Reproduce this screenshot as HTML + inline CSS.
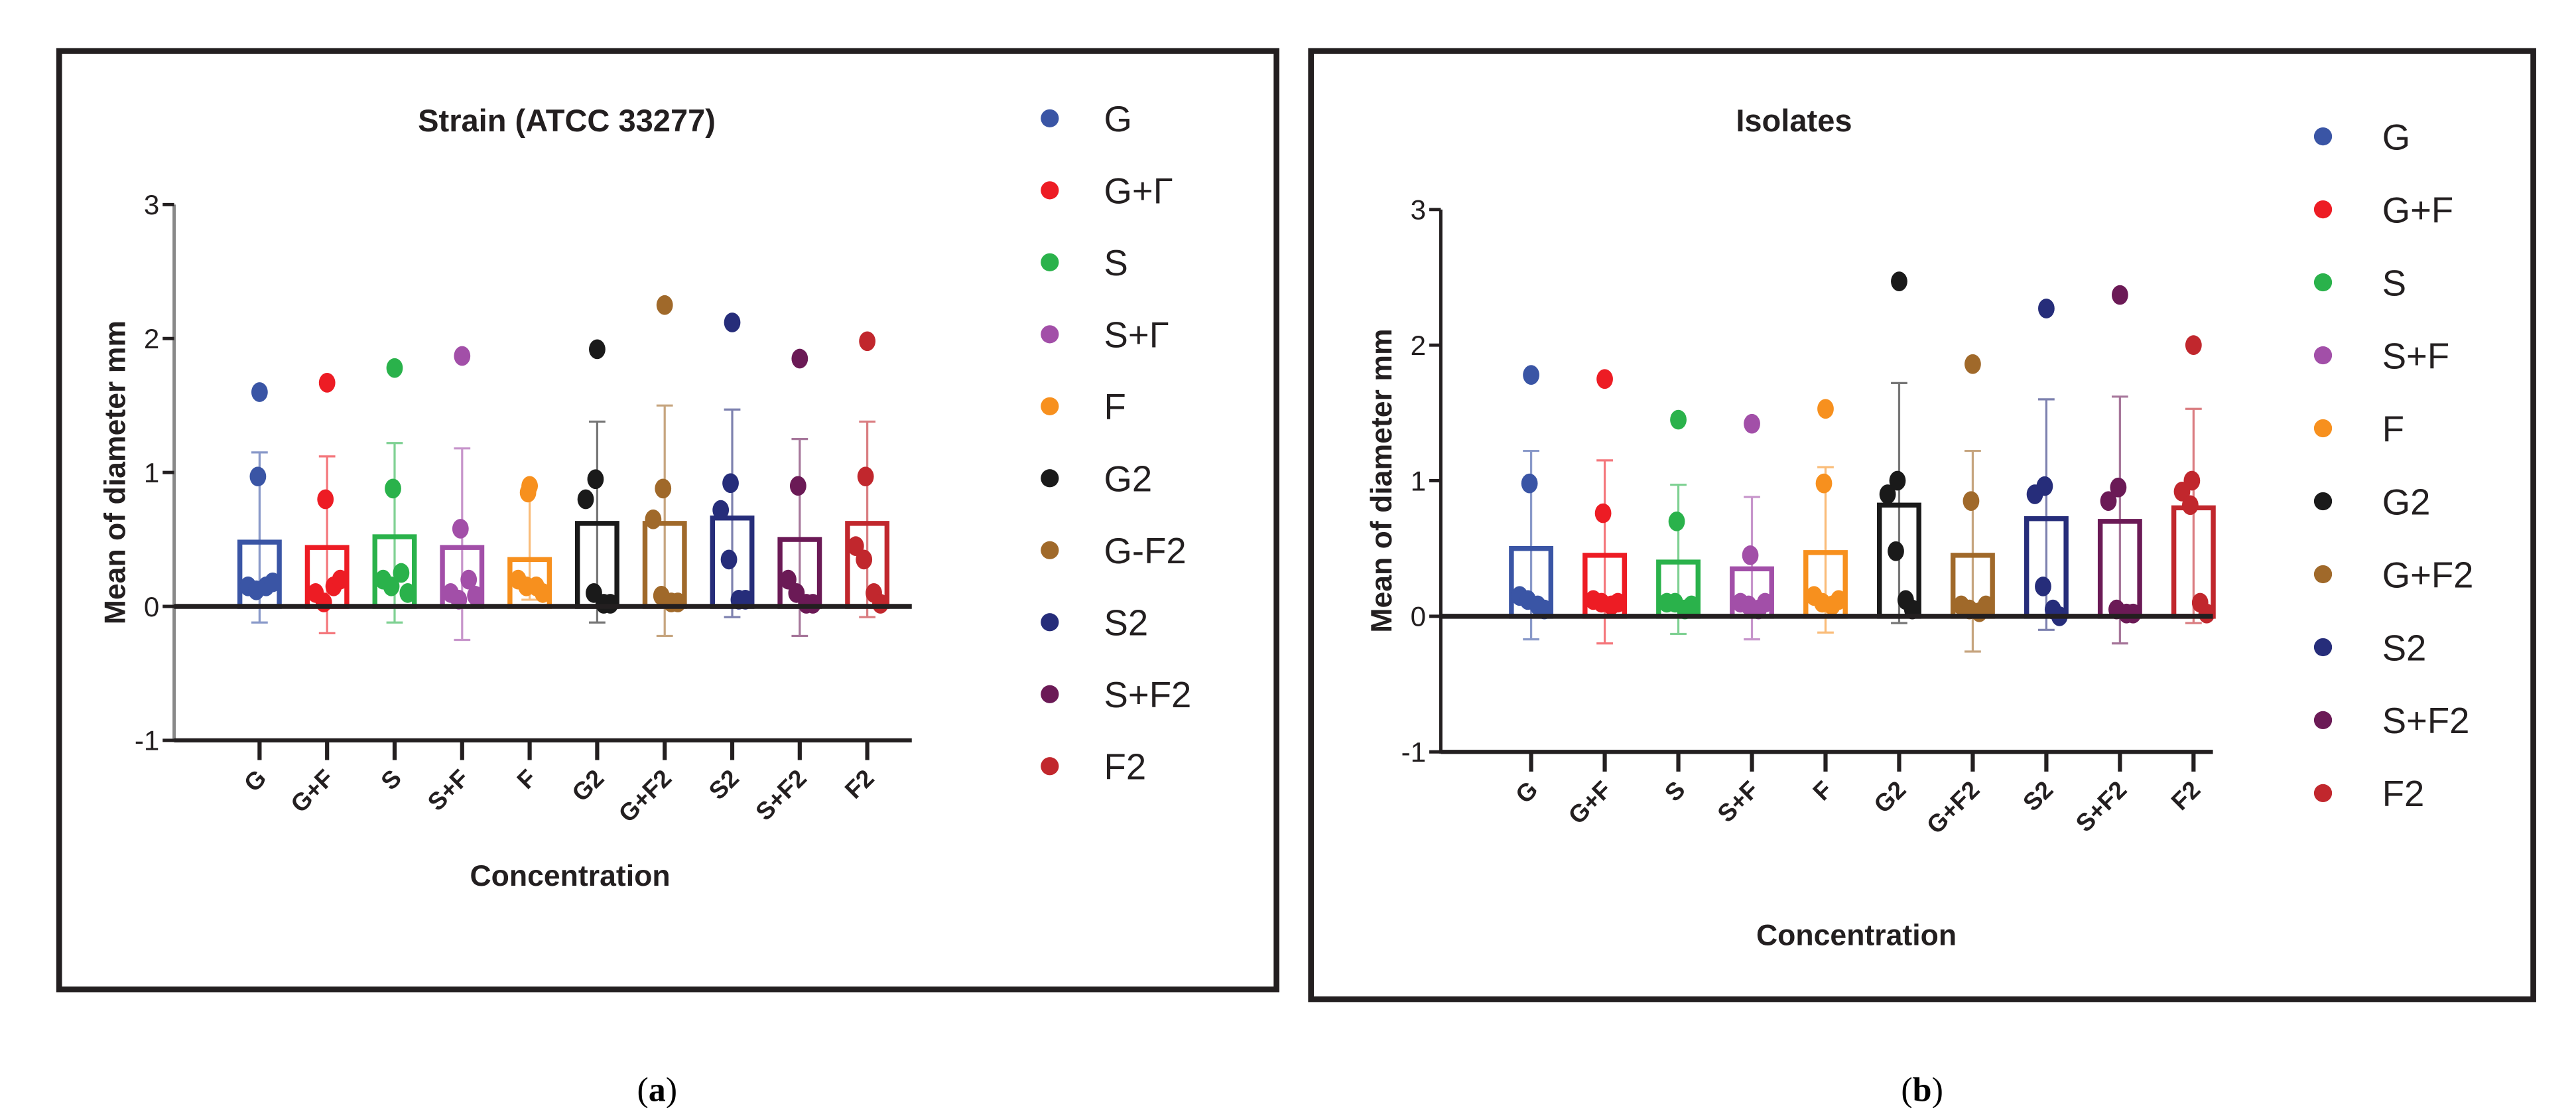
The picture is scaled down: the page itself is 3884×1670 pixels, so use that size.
<!DOCTYPE html>
<html><head><meta charset="utf-8"><style>
html,body{margin:0;padding:0;background:#fff;}
svg{display:block;}
text{font-family:"Liberation Sans",Arial,sans-serif;}
</style></head><body>
<svg id="fig" width="3884" height="1670" viewBox="0 0 1568 674.2" preserveAspectRatio="none" xmlns="http://www.w3.org/2000/svg">
<rect x="36" y="31" width="741" height="571" fill="#fff" stroke="#231f20" stroke-width="3.5"/>
<rect x="798" y="31" width="744" height="577" fill="#fff" stroke="#231f20" stroke-width="3.5"/>
<text x="400" y="670" text-anchor="middle" font-size="21" style="font-family:'Liberation Serif',serif">(<tspan font-weight="bold">a</tspan>)</text>
<text x="1170" y="670" text-anchor="middle" font-size="21" style="font-family:'Liberation Serif',serif">(<tspan font-weight="bold">b</tspan>)</text>
<g id="pa"></g>
<g id="pb"></g>
</svg>
<script>
const categories = ["G","G+F","S","S+F","F","G2","G+F2","S2","S+F2","F2"];
const colors = ["#3a55a5","#ed1c24","#2ab24b","#a24fa8","#f7901e","#1a1a1a","#a0692a","#262d7a","#6b1a56","#c1272d"];
const yTicks = [-1,0,1,2,3];
const meansA = [0.48,0.44,0.52,0.44,0.35,0.62,0.62,0.66,0.50,0.62];
const errHiA = [1.15,1.12,1.22,1.18,0.90,1.38,1.50,1.47,1.25,1.38];
const errLoA = [-0.12,-0.20,-0.12,-0.25,0.05,-0.12,-0.22,-0.08,-0.22,-0.08];
const pointsA = [
 [1.60,0.97,0.15,0.12,0.15,0.18],
 [1.67,0.80,0.10,0.03,0.15,0.20],
 [1.78,0.88,0.20,0.15,0.25,0.10],
 [1.87,0.58,0.10,0.05,0.20,0.08],
 [0.90,0.85,0.20,0.15,0.15,0.10],
 [1.92,0.95,0.80,0.10,0.02,0.02],
 [2.25,0.88,0.65,0.08,0.03,0.03],
 [2.12,0.92,0.72,0.35,0.05,0.05],
 [1.85,0.90,0.20,0.10,0.02,0.02],
 [1.98,0.97,0.45,0.35,0.10,0.02]];
const meansB = [0.50,0.45,0.40,0.35,0.47,0.82,0.45,0.72,0.70,0.80];
const errHiB = [1.22,1.15,0.97,0.88,1.10,1.72,1.22,1.60,1.62,1.53];
const errLoB = [-0.17,-0.20,-0.13,-0.17,-0.12,-0.05,-0.26,-0.10,-0.20,-0.05];
const pointsB = [
 [1.78,0.98,0.15,0.12,0.08,0.05],
 [1.75,0.76,0.12,0.10,0.08,0.10],
 [1.45,0.70,0.10,0.10,0.05,0.08],
 [1.42,0.45,0.10,0.08,0.05,0.10],
 [1.53,0.98,0.15,0.10,0.08,0.12],
 [2.47,1.00,0.90,0.48,0.12,0.05],
 [1.86,0.85,0.08,0.05,0.03,0.08],
 [2.27,0.96,0.90,0.22,0.05,0.00],
 [2.37,0.95,0.85,0.05,0.02,0.02],
 [2.00,1.00,0.92,0.82,0.10,0.02]];
const legendLabelsA = ["G","G+Γ","S","S+Γ","F","G2","G-F2","S2","S+F2","F2"];
const legendLabelsB = ["G","G+F","S","S+F","F","G2","G+F2","S2","S+F2","F2"];

const NS="http://www.w3.org/2000/svg";
function mk(parent,tag,attrs,txt){const e=document.createElementNS(NS,tag);for(const k in attrs)e.setAttribute(k,attrs[k]);if(txt!==undefined)e.textContent=txt;parent.appendChild(e);return e;}

function drawPanel(g,cfg,means,hi,lo,pts,legend,key){
  const y=v=>cfg.y0-(v)*cfg.unit;
  const x=i=>cfg.x0+i*cfg.step;
  let t=mk(g,'text',{x:cfg.titleX,y:80,'text-anchor':'middle','font-size':19,'font-weight':'bold',fill:'#231f20'},cfg.title);
  
  
  let yt=mk(g,'text',{x:0,y:0,'text-anchor':'middle','font-size':18,'font-weight':'bold',fill:'#231f20',transform:`translate(${cfg.axX-30},${y(1)}) rotate(-90)`},'Mean of diameter mm');
  
  
  let xt=mk(g,'text',{x:cfg.xTitleX,y:cfg.xTitleY,'text-anchor':'middle','font-size':18,'font-weight':'bold',fill:'#231f20'},'Concentration');
  
  
  let ya=mk(g,'line',{x1:cfg.axX,x2:cfg.axX,y1:y(3),y2:y(-1)+1,stroke:cfg.axColor,'stroke-width':2});
  
  
  yTicks.forEach(v=>{
    let tk=mk(g,'line',{x1:cfg.axX-7,x2:cfg.axX,y1:y(v),y2:y(v),stroke:'#231f20','stroke-width':2});
    
    
    let tl=mk(g,'text',{x:cfg.axX-9,y:y(v)+6,'text-anchor':'end','font-size':17,fill:'#231f20'},String(v));
    
    
  });
  let xa=mk(g,'line',{x1:cfg.axX,x2:cfg.axEnd,y1:y(-1),y2:y(-1),stroke:'#231f20','stroke-width':2.5});
  
  
  categories.forEach((c,i)=>{
    let tk=mk(g,'line',{x1:x(i),x2:x(i),y1:y(-1),y2:y(-1)+12,stroke:'#231f20','stroke-width':2.5});
    
    
    let tl=mk(g,'text',{x:0,y:0,'text-anchor':'end','font-size':15,'font-weight':'bold',fill:'#231f20',transform:`translate(${x(i)+5},${y(-1)+24}) rotate(-45)`},c);
    
    
  });
  const offs=[0,-1,-7,-2,4,8];
  categories.forEach((c,i)=>{
    const col=colors[i];
    let bar=mk(g,'rect',{x:x(i)-12,y:y(means[i]),width:24,height:Math.max(0,y(0)-y(means[i])),fill:'none',stroke:col,'stroke-width':3});
    
    
    let eb=mk(g,'path',{d:`M${x(i)},${y(hi[i])}V${y(lo[i])}M${x(i)-5},${y(hi[i])}H${x(i)+5}M${x(i)-5},${y(lo[i])}H${x(i)+5}`,stroke:col,'stroke-width':1.3,'stroke-opacity':0.6,fill:'none'});
    
    
    pts[i].forEach((v,j)=>{
      let p=mk(g,'ellipse',{cx:x(i)+offs[j],cy:y(v),rx:5,ry:6,fill:col});
      
      
    });
  });
  let zl=mk(g,'line',{x1:cfg.axX,x2:cfg.axEnd,y1:y(0),y2:y(0),stroke:'#231f20','stroke-width':3});
  
  
  legend.forEach((l,i)=>{
    const ly=cfg.legY0+i*cfg.legStep;
    let d=mk(g,'ellipse',{cx:cfg.legX,cy:ly,rx:5.5,ry:5.5,fill:colors[i]});
    
    
    let lt=mk(g,'text',{x:cfg.legTextX,y:ly+8,'font-size':22,fill:'#231f20'},l);
    
    
  });
}
drawPanel(document.getElementById('pa'),{title:'Strain (ATCC 33277)',titleX:345,axX:106,axEnd:555,x0:158,step:41.1,y0:369,unit:81.5,axColor:'#888',xTitleX:347,xTitleY:539,legX:639,legTextX:672,legY0:72,legStep:43.8},meansA,errHiA,errLoA,pointsA,legendLabelsA,'panel-a');
drawPanel(document.getElementById('pb'),{title:'Isolates',titleX:1092,axX:877,axEnd:1347,x0:932,step:44.8,y0:375,unit:82.5,axColor:'#231f20',xTitleX:1130,xTitleY:575,legX:1414,legTextX:1450,legY0:83,legStep:44.4},meansB,errHiB,errLoB,pointsB,legendLabelsB,'panel-b');
</script>
</body></html>
